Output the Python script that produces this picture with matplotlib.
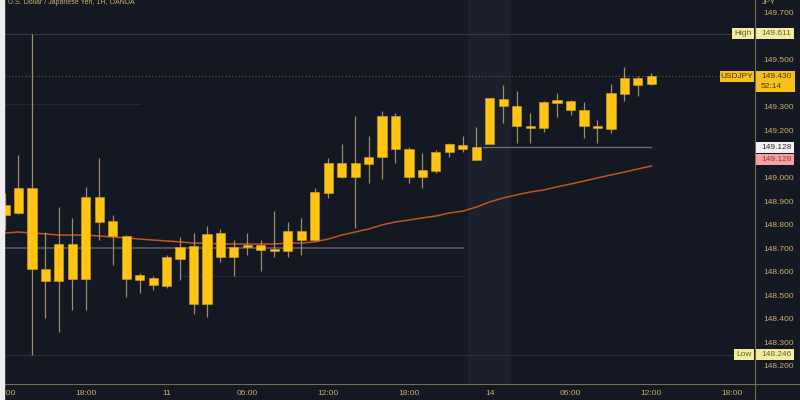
import matplotlib
matplotlib.use('Agg')  # no display
import matplotlib.pyplot as plt
from matplotlib.patches import Rectangle
from matplotlib.transforms import blended_transform_factory

# hourly USD/JPY candles (OANDA)
opens = [148.840, 148.850, 148.955, 148.611, 148.560, 148.717, 148.568, 148.917, 148.815, 148.751,
         148.564, 148.572, 148.538, 148.653, 148.708, 148.462, 148.764, 148.662, 148.704, 148.713,
         148.687, 148.687, 148.772, 148.734, 148.934, 149.062, 149.002, 149.057, 149.087, 149.262,
         149.121, 149.002, 149.028, 149.109, 149.138, 149.130, 149.143, 149.334, 149.304, 149.219,
         149.211, 149.317, 149.326, 149.287, 149.219, 149.206, 149.355, 149.424, 149.398]
highs = [148.934, 149.096, 149.611, 148.768, 148.874, 148.828, 148.960, 149.083, 148.840, 148.755,
         148.594, 148.580, 148.670, 148.747, 148.764, 148.794, 148.781, 148.734, 148.764, 148.734,
         148.857, 148.811, 148.828, 148.955, 149.083, 149.143, 149.262, 149.177, 149.283, 149.274,
         149.130, 149.104, 149.117, 149.147, 149.177, 149.215, 149.340, 149.394, 149.368, 149.274,
         149.325, 149.360, 149.330, 149.321, 149.245, 149.398, 149.470, 149.430, 149.445]
lows = [148.777, 148.845, 148.246, 148.402, 148.343, 148.436, 148.436, 148.734, 148.628, 148.491,
        148.508, 148.521, 148.530, 148.564, 148.419, 148.406, 148.640, 148.581, 148.670, 148.602,
        148.662, 148.662, 148.670, 148.730, 148.913, 148.998, 148.785, 148.977, 148.994, 149.062,
        148.977, 148.955, 149.020, 149.087, 149.109, 149.075, 149.141, 149.232, 149.147, 149.147,
        149.194, 149.257, 149.266, 149.168, 149.147, 149.189, 149.326, 149.347, 149.395]
closes = [148.883, 148.955, 148.611, 148.560, 148.717, 148.568, 148.917, 148.811, 148.751, 148.568,
          148.585, 148.543, 148.662, 148.704, 148.462, 148.760, 148.662, 148.704, 148.713, 148.691,
          148.696, 148.772, 148.734, 148.938, 149.062, 149.002, 149.062, 149.087, 149.262, 149.121,
          149.002, 149.032, 149.109, 149.143, 149.121, 149.075, 149.338, 149.304, 149.219, 149.211,
          149.321, 149.330, 149.287, 149.219, 149.211, 149.360, 149.424, 149.394, 149.430]
ma = [148.764, 148.768, 148.764, 148.760, 148.755, 148.755, 148.755, 148.751, 148.747, 148.743,
      148.738, 148.734, 148.730, 148.726, 148.721, 148.721, 148.717, 148.717, 148.717, 148.717,
      148.717, 148.721, 148.721, 148.726, 148.738, 148.755, 148.768, 148.781, 148.798, 148.811,
      148.819, 148.828, 148.836, 148.849, 148.857, 148.874, 148.896, 148.913, 148.926, 148.938,
      148.947, 148.960, 148.972, 148.985, 148.998, 149.011, 149.023, 149.036, 149.049]

time_ticks = [0, 6, 12, 18, 24, 30, 36, 42, 48, 54]
time_labels = ['12:00', '18:00', '11', '06:00', '12:00', '18:00', '14', '06:00', '12:00', '18:00']
price_ticks = [149.7, 149.5, 149.3, 149.2, 149.0,
               148.9, 148.8, 148.7, 148.6, 148.5, 148.4, 148.3, 148.2]

high_val = 149.611
low_val = 148.246
last_val = 149.430
level_val = 149.128

BG = '#141823'
GOLD = '#cfae6b'
BODY = '#ffc414'
WICK = '#a08e68'

plt.rcParams['font.family'] = ['Liberation Sans', 'DejaVu Sans']

fig = plt.figure(figsize=(8, 4), dpi=100, facecolor=BG)
ax = fig.add_axes([5 / 800, 16 / 400, 750 / 800, 384 / 400])
ax.set_facecolor(BG)
ax.set_xlim(0, 55.7)
ax.set_ylim(148.1213, 149.7553)

# weekend highlight
ax.axvspan(34.4, 37.5, color='#1c202c', zorder=0)

# drawn levels
ax.axhline(high_val, color='#363a46', lw=0.8, zorder=1)
ax.axhline(low_val, color='#2e313c', lw=0.8, zorder=1)
ax.plot([0, 54.0], [last_val, last_val], color='#6b5a3a', lw=0.8, ls=(0, (1, 2)), zorder=1)
ax.plot([0, 10], [149.313, 149.313], color='#252935', lw=0.8, zorder=1)
ax.plot([0, 34], [148.700, 148.700], color='#5a5868', lw=1.2, zorder=1)
ax.plot([13, 34], [148.580, 148.580], color='#262a36', lw=0.8, zorder=1)
ax.plot([35.5, 48], [level_val, level_val], color='#6a6a74', lw=1.0, zorder=1)

# moving average
x = list(range(len(closes)))
ax.plot(x, ma, color='#c2561e', lw=1.1, zorder=2)

# candles
ax.vlines(x, lows, highs, color=WICK, lw=0.9, zorder=3)
bottoms = [min(o, c) for o, c in zip(opens, closes)]
heights = [max(abs(c - o), 0.007) for o, c in zip(opens, closes)]
ax.bar(x, heights, bottom=bottoms, width=0.68, color=BODY, edgecolor='#d9a410',
       linewidth=0.4, zorder=4)

for s in ax.spines.values():
    s.set_visible(False)

ax.set_xticks(time_ticks)
ax.set_xticklabels(time_labels)
ax.yaxis.tick_right()
ax.set_yticks(price_ticks)
ax.set_yticklabels([f'{p:.3f}' for p in price_ticks])
ax.tick_params(axis='x', length=0, pad=4, labelsize=6, labelcolor=GOLD)
ax.tick_params(axis='y', length=0, pad=6, labelsize=6, labelcolor=GOLD)
for lab in ax.get_yticklabels():
    lab.set_horizontalalignment('left')

# axis borders
fig.add_artist(plt.Line2D([0, 1], [16 / 400, 16 / 400], color='#7a6c52', lw=0.8))
fig.add_artist(plt.Line2D([755 / 800, 755 / 800], [0, 1], color='#7a6c52', lw=0.8))
fig.add_artist(Rectangle((0, 0), 4 / 800, 1, transform=fig.transFigure,
                         color='#eeeeee', zorder=20))

# price labels on the scale
tr = blended_transform_factory(fig.transFigure, ax.transData)
px = 1.634 / 384  # price per pixel


def tag(x0, x1, y, h, face, text, tcolor, ha='center'):
    ax.add_patch(Rectangle((x0 / 800, y - h / 2 * px), (x1 - x0) / 800, h * px,
                           transform=tr, facecolor=face, edgecolor='none',
                           clip_on=False, zorder=10))
    tx = (x0 + x1) / 2 / 800 if ha == 'center' else (x0 + 6) / 800
    ax.text(tx, y, text, transform=tr, ha=ha, va='center', fontsize=6,
            color=tcolor, clip_on=False, zorder=11)


tag(732, 754, high_val, 11, '#f4eca0', 'High', '#6a6030')
tag(755, 794, high_val, 11, '#f4eca0', f'{high_val:.3f}', '#6a6030', ha='left')
tag(720, 754, last_val, 11, '#f5c21b', 'USDJPY', '#4a3808')
ax.add_patch(Rectangle((755 / 800, last_val - 16 * px), 40 / 800, 21 * px, transform=tr,
                       facecolor='#f5c21b', edgecolor='none', clip_on=False, zorder=10))
ax.text(761 / 800, last_val, f'{last_val:.3f}', transform=tr, ha='left', va='center',
        fontsize=6, color='#4a3808', clip_on=False, zorder=11)
ax.text(761 / 800, last_val - 10 * px, '52:14', transform=tr, ha='left', va='center',
        fontsize=6, color='#4a3808', clip_on=False, zorder=11)
tag(755, 794, level_val, 11, '#f2f2f2', f'{level_val:.3f}', '#333333', ha='left')
tag(755, 794, level_val - 12 * px, 11, '#f3a3a3', f'{level_val:.3f}', '#b03030', ha='left')
tag(734, 754, low_val, 11, '#f4eca0', 'Low', '#6a6030')
tag(755, 794, low_val, 11, '#f4eca0', f'{low_val:.3f}', '#6a6030', ha='left')

fig.text(8 / 800, 1 - 3 / 400, 'U.S. Dollar / Japanese Yen, 1H, OANDA', fontsize=5,
         color=GOLD, va='center', ha='left')
fig.text(762 / 800, 1 - 2 / 400, 'JPY', fontsize=5.5, color=GOLD, va='center', ha='left')

fig.savefig('out.png', dpi=100, facecolor=BG)
